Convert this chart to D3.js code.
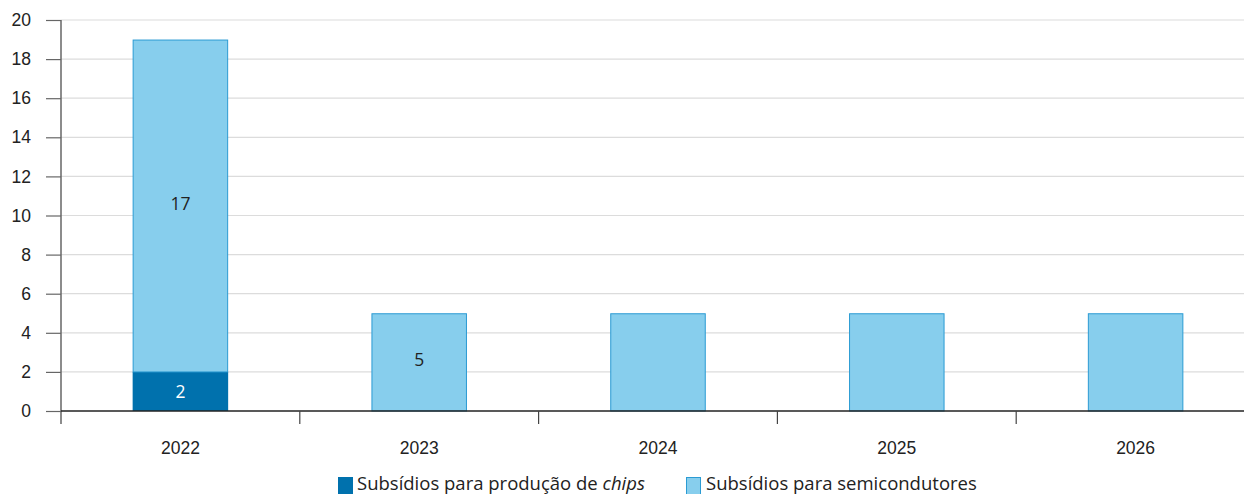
<!DOCTYPE html>
<html>
<head>
<meta charset="utf-8">
<script src="https://cdn.jsdelivr.net/npm/d3@7"></script>
<style>
  body { margin: 0; background: #fff; }
  svg { display: block; font-family: "Open Sans", "Noto Sans", sans-serif; }
</style>
</head>
<body>
<svg id="chart" width="1244" height="494"></svg>
<script>
// data
const years = ['2022', '2023', '2024', '2025', '2026']
const chips = [2, 0, 0, 0, 0]
const semicondutores = [17, 5, 5, 5, 5]
const yTicks = [0, 2, 4, 6, 8, 10, 12, 14, 16, 18, 20]
// only some segments carry a value label in the original
const labelChips = [true, false, false, false, false]
const labelSemi = [true, true, false, false, false]

const svg = d3.select('#chart')
const mLeft = 61, mRight = 1255, mTop = 20, mBottom = 411
const fs = 17.5

const x = d3.scaleBand().domain(years).range([mLeft, mRight])
const y = d3.scaleLinear().domain([0, 20]).range([mBottom, mTop])
const barW = x.bandwidth() * 0.4

// grid
svg.append('g')
  .selectAll('line')
  .data(yTicks.filter(d => d > 0))
  .join('line')
  .attr('x1', mLeft).attr('x2', 1244)
  .attr('y1', d => y(d)).attr('y2', d => y(d))
  .attr('stroke', '#dcdcdc').attr('stroke-width', 1.2)

// y axis
const yAxis = svg.append('g')
  .attr('transform', `translate(${mLeft},0)`)
  .call(d3.axisLeft(y).tickValues(yTicks).tickSize(15).tickPadding(15))
yAxis.select('.domain').remove()
yAxis.selectAll('line').attr('stroke', '#666').attr('stroke-width', 1.2)
yAxis.selectAll('text').attr('font-size', fs).attr('fill', '#222')
svg.append('line')
  .attr('x1', mLeft).attr('x2', mLeft).attr('y1', mTop).attr('y2', 424)
  .attr('stroke', '#666').attr('stroke-width', 1.5)

// stacked bars
const rows = years.map((yr, i) => ({ yr, chips: chips[i], semi: semicondutores[i], i }))

svg.append('g').selectAll('rect')
  .data(rows.filter(d => d.chips > 0))
  .join('rect')
  .attr('x', d => x(d.yr) + (x.bandwidth() - barW) / 2)
  .attr('width', barW)
  .attr('y', d => y(d.chips))
  .attr('height', d => y(0) - y(d.chips))
  .attr('fill', '#0071ad')

svg.append('g').selectAll('rect')
  .data(rows)
  .join('rect')
  .attr('x', d => x(d.yr) + (x.bandwidth() - barW) / 2 + 0.5)
  .attr('width', barW - 1)
  .attr('y', d => y(d.chips + d.semi) + 0.5)
  .attr('height', d => y(d.chips) - y(d.chips + d.semi) - 0.5)
  .attr('fill', '#87ceed')
  .attr('stroke', '#2b9bd3').attr('stroke-width', 1)

// value labels
svg.append('g').selectAll('text')
  .data(rows.filter(d => labelChips[d.i]))
  .join('text')
  .attr('x', d => x(d.yr) + x.bandwidth() / 2)
  .attr('y', d => y(d.chips / 2) + 7)
  .attr('text-anchor', 'middle').attr('font-size', fs).attr('fill', '#fff')
  .text(d => d.chips)

svg.append('g').selectAll('text')
  .data(rows.filter(d => labelSemi[d.i]))
  .join('text')
  .attr('x', d => x(d.yr) + x.bandwidth() / 2)
  .attr('y', d => y(d.chips + d.semi / 2) + 4)
  .attr('text-anchor', 'middle').attr('font-size', fs).attr('fill', '#222')
  .text(d => d.semi)

// x axis
const xAxis = svg.append('g')
  .attr('transform', `translate(0,${mBottom})`)
  .call(d3.axisBottom(x).tickSize(0).tickPadding(31))
xAxis.select('.domain').remove()
xAxis.selectAll('text').attr('font-size', fs).attr('fill', '#222')
svg.append('line')
  .attr('x1', mLeft).attr('x2', 1244).attr('y1', mBottom).attr('y2', mBottom)
  .attr('stroke', '#222').attr('stroke-width', 1.5)
svg.append('g').selectAll('line')
  .data(years.slice(1))
  .join('line')
  .attr('x1', d => x(d)).attr('x2', d => x(d))
  .attr('y1', mBottom).attr('y2', 424)
  .attr('stroke', '#444').attr('stroke-width', 1.2)

// legend
const legend = svg.append('g').attr('font-size', 18.5).attr('fill', '#222')
legend.append('rect').attr('x', 338).attr('y', 477).attr('width', 15).attr('height', 17).attr('fill', '#0071ad')
const t1 = legend.append('text').attr('x', 357).attr('y', 490)
t1.append('tspan').text('Subsídios para produção de ')
t1.append('tspan').attr('font-style', 'italic').text('chips')
legend.append('rect').attr('x', 686.5).attr('y', 477.5).attr('width', 14).attr('height', 17)
  .attr('fill', '#87ceed').attr('stroke', '#2b9bd3')
legend.append('text').attr('x', 706).attr('y', 490).text('Subsídios para semicondutores')
</script>
</body>
</html>
